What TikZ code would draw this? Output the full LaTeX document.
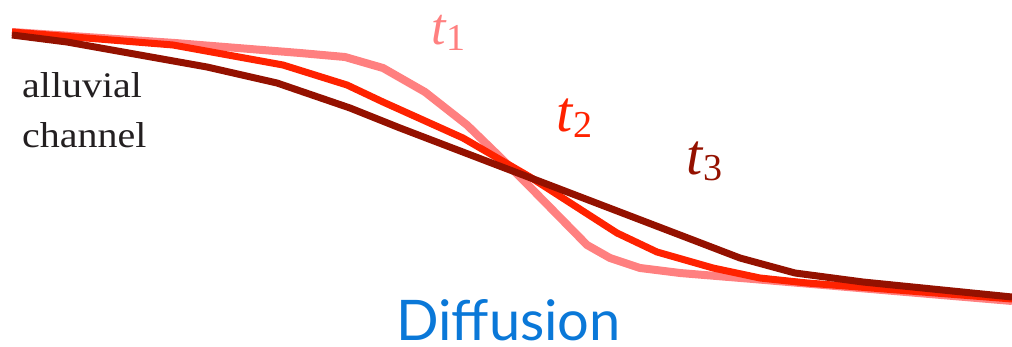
\documentclass[tikz,border=0pt]{standalone}
\usepackage{fontspec}
\setmainfont{Liberation Serif}
\newfontfamily\diffont{Lato}
\definecolor{cpink}{HTML}{FF8080}
\definecolor{cred}{HTML}{FF2200}
\definecolor{cdark}{HTML}{941100}
\definecolor{cblue}{HTML}{0A78D8}
\definecolor{ctext}{HTML}{231F20}
\tikzset{
  prof/.style={line width=7pt, line join=round, line cap=butt},
  tlabel/.style={anchor=base west, inner sep=0pt, font=\fontsize{58}{58}\selectfont},
}
\newcommand{\tsub}[1]{\textit{t}\raisebox{-6pt}{\fontsize{38}{38}\selectfont #1}}
\begin{document}
\begin{tikzpicture}[x=1pt,y=-1pt]
\useasboundingbox (0,0) rectangle (1012,347);
% t1 profile
\draw[prof, cpink, line width=8pt] (12,32) -- (175,43) -- (300,53) -- (345,57) -- (383,68) -- (425,92) -- (467,125) -- (500,157) -- (530,187) -- (587,245) -- (610,258) -- (640,268) -- (680,273) -- (753,279) -- (1012,301);
% t2 profile
\draw[prof, cred] (12,32) -- (173,45) -- (283,65) -- (347,85) -- (383,102) -- (463,138) -- (530,177) -- (617,233) -- (657,252) -- (713,268) -- (760,278) -- (807,283) -- (1012,299);
% t3 profile
\draw[prof, cdark] (12,35) -- (67,42) -- (207,67) -- (277,83) -- (350,108) -- (400,128) -- (523,175) -- (693,240) -- (740,258) -- (795,273) -- (863,282) -- (1012,297);
% labels
\node[tlabel, text=cpink, font=\fontsize{52}{52}\selectfont] (t1) at (431,45) {\tsub{1}};
\node[tlabel, text=cred] (t2) at (556,132) {\tsub{2}};
\node[tlabel, text=cdark] (t3) at (686,175) {\tsub{3}};
\node[anchor=base west, inner sep=0pt, text=ctext, font=\fontsize{36}{36}\selectfont] (al) at (22,98) {\scalebox{1.11}[1]{alluvial}};
\node[anchor=base west, inner sep=0pt, text=ctext, font=\fontsize{36}{36}\selectfont] (ch) at (22,148) {\scalebox{1.11}[1]{channel}};
\node[anchor=base west, inner sep=0pt, text=cblue, font=\diffont\fontsize{56}{56}\selectfont] (dif) at (396,341) {Diffusion};
\end{tikzpicture}
\end{document}
